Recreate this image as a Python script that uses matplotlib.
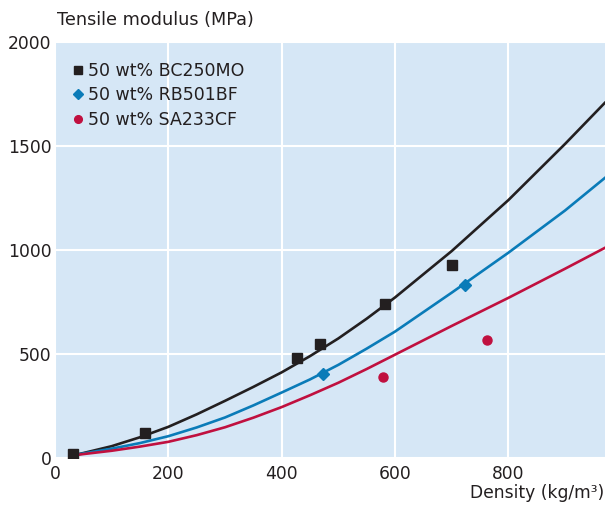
import numpy as np
import matplotlib.pyplot as plt

plt.rcParams['font.family'] = ['DejaVu Sans']

# measured points
bc_x = [32, 159, 427, 468, 582, 700]
bc_y = [19, 120, 480, 548, 740, 928]
rb_x = [472, 723]
rb_y = [404, 832]
sa_x = [579, 762]
sa_y = [389, 567]

# fitted curves
curve_x = [30, 50, 100, 150, 200, 250, 300, 350, 400, 450, 500, 550, 600, 700, 800, 900, 970]
bc_fit = [12, 24, 57, 100, 150, 210, 275, 342, 412, 490, 575, 670, 772, 995, 1240, 1510, 1707]
rb_fit = [12, 22, 45, 72, 105, 147, 195, 253, 315, 378, 448, 526, 608, 795, 987, 1190, 1346]
sa_fit = [12, 19, 35, 55, 78, 110, 148, 194, 245, 302, 362, 428, 497, 635, 770, 910, 1010]

labels = ['50 wt% BC250MO', '50 wt% RB501BF', '50 wt% SA233CF']
black = '#231f20'
blue = '#0a7bb8'
red = '#c0103f'
txt = '#231f20'

fig = plt.figure(figsize=(6.06, 5.05), dpi=100)
ax = fig.add_axes([0.0908, 0.093, 0.9072, 0.824])
ax.set_facecolor('#d6e7f6')

ax.plot(curve_x, bc_fit, color=black, lw=1.9, zorder=3)
ax.plot(curve_x, rb_fit, color=blue, lw=1.9, zorder=3)
ax.plot(curve_x, sa_fit, color=red, lw=1.9, zorder=3)

ax.plot(bc_x, bc_y, 's', color=black, ms=7.3, ls='none', label=labels[0], zorder=4)
ax.plot(rb_x, rb_y, 'D', color=blue, ms=6.5, ls='none', label=labels[1], zorder=4)
ax.plot(sa_x, sa_y, 'o', color=red, ms=6.5, ls='none', label=labels[2], zorder=4)

ax.set_xlim(0, 970)
ax.set_ylim(0, 2000)
ax.set_xticks([0, 200, 400, 600, 800])
ax.set_yticks([0, 500, 1000, 1500, 2000])
ax.grid(True, color='white', lw=1.5)
ax.set_axisbelow(True)
for s in ax.spines.values():
    s.set_visible(False)
ax.tick_params(length=0, labelsize=12.3, labelcolor=txt)
ax.tick_params(axis='y', pad=2.5)
ax.tick_params(axis='x', pad=5)

fig.text(0.094, 0.96, 'Tensile modulus (MPa)', fontsize=12.7, color=txt,
         ha='left', va='center')
fig.text(0.997, 0.024, 'Density (kg/m³)', fontsize=12.3, color=txt,
         ha='right', va='center')

leg = ax.legend(loc='upper left', frameon=False, fontsize=12.5,
                handlelength=0.6, handletextpad=0.25, labelspacing=0.38,
                markerscale=0.85, borderaxespad=0.5, bbox_to_anchor=(0.004, 0.99))
for t in leg.get_texts():
    t.set_color(txt)

fig.savefig('out.png', dpi=100)
